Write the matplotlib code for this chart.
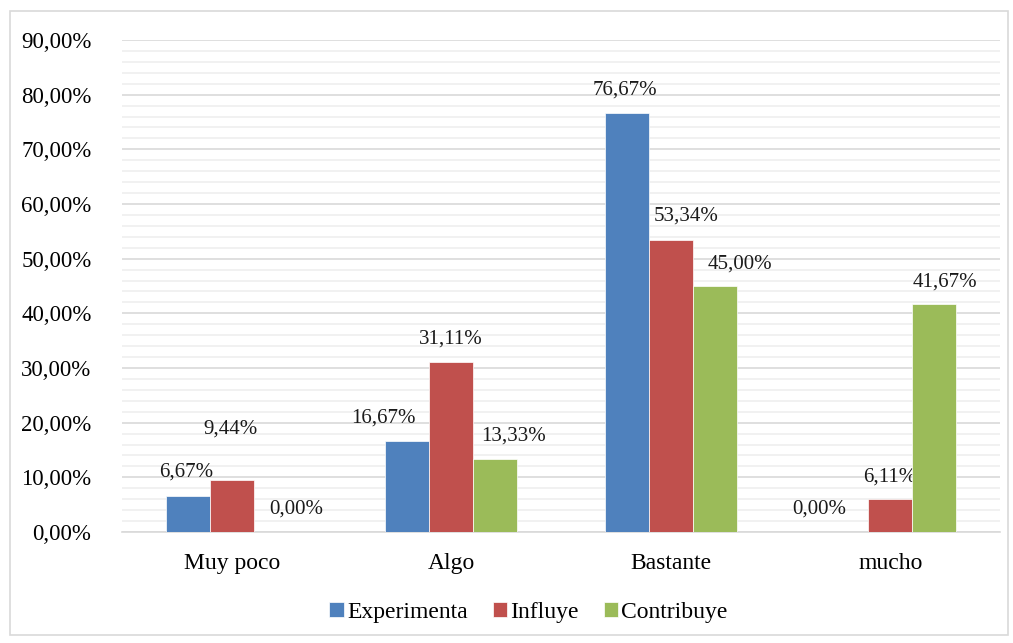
import matplotlib
matplotlib.use("Agg")

import numpy as np
import matplotlib.pyplot as plt
from matplotlib.patches import Rectangle
from matplotlib.ticker import MultipleLocator, FuncFormatter

# datos
categorias = ["Muy poco", "Algo", "Bastante", "mucho"]
series = ["Experimenta", "Influye", "Contribuye"]
experimenta = [6.67, 16.67, 76.67, 0.00]
influye = [9.44, 31.11, 53.34, 6.11]
contribuye = [0.00, 13.33, 45.00, 41.67]
etiquetas = [
    ["6,67%", "16,67%", "76,67%", "0,00%"],
    ["9,44%", "31,11%", "53,34%", "6,11%"],
    ["0,00%", "13,33%", "45,00%", "41,67%"],
]

colores = ["#4f81bd", "#c0504d", "#9bbb59"]
# desplazamiento de etiquetas (px) como en el original de Excel
dx = [[-2, -24, -2, -27], [-1, 0, 15, -1], [21, 18, 25, 11]]
dy = [[23, 23, 23, 23], [51, 23, 24, 22], [23, 23, 22, 22]]

plt.rcParams["font.family"] = ["Liberation Serif", "DejaVu Serif"]

fig = plt.figure(figsize=(10.13, 6.43), dpi=100)
ax = fig.add_axes([122 / 1013, 1 - 532 / 643, 878 / 1013, 492 / 643])

# borde exterior
fig.patches.append(Rectangle((10 / 1013, 8 / 643), 998 / 1013, 624 / 643,
                             transform=fig.transFigure, fill=False,
                             edgecolor="#d9d9d9", linewidth=1.2))

x = np.arange(len(categorias))
w = 0.2
datos = [experimenta, influye, contribuye]
for i, (nombre, vals) in enumerate(zip(series, datos)):
    pos = x + (i - 1) * w
    ax.bar(pos, vals, width=w, color=colores[i], label=nombre, zorder=3,
           edgecolor="white", linewidth=0.5)
    for j, v in enumerate(vals):
        ax.annotate(etiquetas[i][j], (pos[j], v),
                    xytext=(dx[i][j] * 0.72, dy[i][j] * 0.72),
                    textcoords="offset points", ha="center", va="center",
                    fontsize=15, color="#1a1a1a")

ax.set_xlim(-0.5, 3.5)
ax.set_ylim(0, 90)
ax.yaxis.set_major_locator(MultipleLocator(10))
ax.yaxis.set_minor_locator(MultipleLocator(2))
ax.yaxis.set_major_formatter(FuncFormatter(lambda v, p: f"{v:.2f}%".replace(".", ",")))
ax.grid(axis="y", which="major", color="#d9d9d9", linewidth=1.2, zorder=0)
ax.grid(axis="y", which="minor", color="#efefef", linewidth=1.2, zorder=0)
ax.set_axisbelow(True)

ax.set_xticks(x)
ax.set_xticklabels(categorias)
ax.tick_params(axis="x", length=0, pad=15, labelsize=17)
ax.tick_params(axis="y", which="both", length=0, pad=22, labelsize=16.5)
for s in ["top", "right", "left"]:
    ax.spines[s].set_visible(False)
ax.spines["bottom"].set_color("#d9d9d9")
ax.spines["bottom"].set_linewidth(1.2)

ax.legend(loc="center", bbox_to_anchor=(0.463, -0.163), ncol=3, frameon=False,
          fontsize=17, handlelength=0.6, handleheight=0.6,
          handletextpad=0.15, columnspacing=1.05)

plt.savefig("out.png", dpi=100)
plt.close()
